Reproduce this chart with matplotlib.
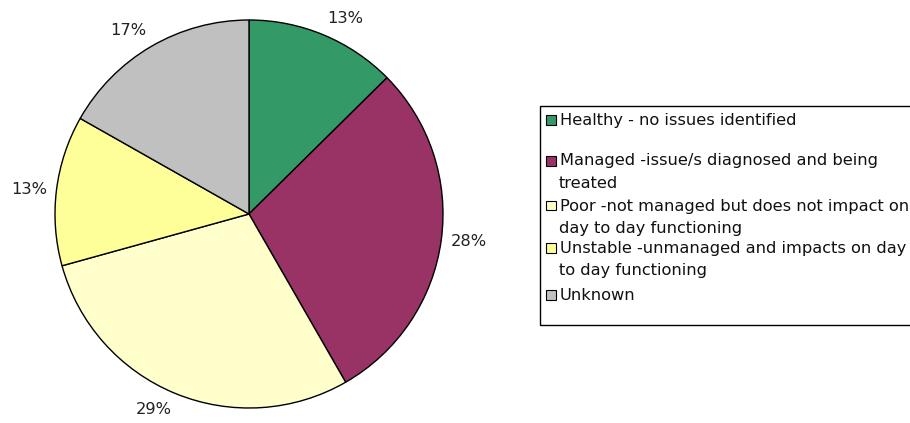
import matplotlib
matplotlib.use("Agg")
import matplotlib.pyplot as plt
from matplotlib.patches import Rectangle

categories = [
    "Healthy - no issues identified",
    "Managed -issue/s diagnosed and being\ntreated",
    "Poor -not managed but does not impact on\nday to day functioning",
    "Unstable -unmanaged and impacts on day\nto day functioning",
    "Unknown",
]
values = [12.6, 29.1, 29.0, 12.5, 16.8]
# percentage labels as printed on the chart
pct_labels = ["13%", "28%", "29%", "13%", "17%"]
colors = ["#339966", "#993366", "#FFFFCC", "#FFFF99", "#C0C0C0"]

W, H = 910, 423
plt.rcParams['font.family'] = ['DejaVu Sans']
fig = plt.figure(figsize=(W / 100, H / 100), dpi=100)

FS = 11.7
cx, cy, r = 249, 214, 194
ax = fig.add_axes([(cx - r) / W, (H - cy - r) / H, 2 * r / W, 2 * r / H])
wedges, texts = ax.pie(
    values, colors=colors, startangle=90, counterclock=False,
    labels=pct_labels, labeldistance=1.05,
    wedgeprops=dict(edgecolor="black", linewidth=1.0),
    textprops=dict(fontsize=FS, color="#222222"),
)
for t in texts:
    x, y = t.get_position()
    t.set_ha("left" if x > 0 else "right")
    if y > 0.5:
        t.set_va("bottom")
    elif y < -0.5:
        t.set_va("top")
    else:
        t.set_va("center")
ax.set_aspect("equal")
ax.set_xlim(-1, 1)
ax.set_ylim(-1, 1)

# Legend drawn manually
box = Rectangle((540 / W, 1 - 325 / H), 400 / W, (325 - 106) / H,
                transform=fig.transFigure, facecolor="white",
                edgecolor="black", linewidth=1.0, clip_on=False)
fig.patches.append(box)
line1_y = [120, 161, 206, 248, 295]
for lab, col, y in zip(categories, colors, line1_y):
    sq = Rectangle((546 / W, 1 - (y + 4.5) / H), 9.5 / W, 9.5 / H,
                   transform=fig.transFigure, facecolor=col,
                   edgecolor="black", linewidth=0.8)
    fig.patches.append(sq)
    lines = lab.split("\n")
    for i, t in enumerate(lines):
        x = 560 if i == 0 else 559
        fig.text(x / W, 1 - (y + 22 * i) / H, t, fontsize=FS,
                 va="center", ha="left", color="#111111")

fig.savefig("out.png", dpi=100)
